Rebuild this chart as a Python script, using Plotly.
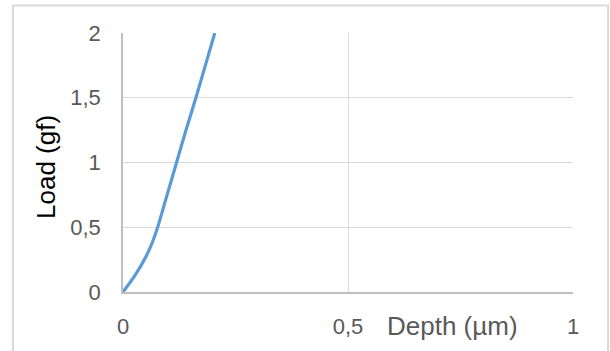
import plotly.graph_objects as go

depth_um = [0, 0.027, 0.052, 0.066, 0.077, 0.098, 0.119, 0.140, 0.162, 0.183, 0.204]
load_gf = [0, 0.13, 0.28, 0.39, 0.5, 0.75, 1.0, 1.25, 1.5, 1.75, 2.0]

x_ticks = [0, 0.5, 1]
x_labels = ["0", "0,5", "1"]
y_ticks = [0, 0.5, 1, 1.5, 2]
y_labels = ["0", "0,5", "1", "1,5", "2"]

fig = go.Figure()
fig.add_trace(go.Scatter(x=depth_um, y=load_gf, mode="lines",
                         line=dict(color="#5B9BD5", width=3.2, shape="spline", smoothing=0.9),
                         cliponaxis=True, showlegend=False))

font = "Liberation Sans, Arial, sans-serif"
fig.update_layout(
    width=610, height=351,
    margin=dict(l=123, r=37, t=33, b=53),
    paper_bgcolor="white", plot_bgcolor="white",
    font=dict(family=font, size=22, color="#595959"),
    xaxis=dict(range=[0, 1], tickvals=x_ticks, ticktext=x_labels,
               showgrid=True, gridcolor="#D9D9D9", gridwidth=1.3,
               showline=True, linecolor="#BFBFBF", linewidth=1.5, mirror=False,
               zeroline=False, ticks="outside", ticklen=14, tickcolor="rgba(0,0,0,0)",
               fixedrange=True),
    yaxis=dict(range=[0, 2], tickvals=y_ticks, ticktext=y_labels,
               showgrid=True, gridcolor="#D9D9D9", gridwidth=1.3,
               showline=True, linecolor="#BFBFBF", linewidth=1.5,
               zeroline=False, ticks="outside", ticklen=16, tickcolor="rgba(0,0,0,0)",
               fixedrange=True),
    annotations=[
        dict(text="Depth (µm)", xref="paper", yref="paper", x=0.733, y=-0.13,
             showarrow=False, font=dict(family=font, size=26, color="#595959"),
             xanchor="center", yanchor="middle"),
        dict(text="Load (gf)", xref="paper", yref="paper", x=-0.171, y=0.483,
             showarrow=False, textangle=-90, font=dict(family=font, size=26, color="#000000"),
             xanchor="center", yanchor="middle"),
    ],
    shapes=[
        dict(type="rect", xref="paper", yref="paper", x0=-0.2444, x1=1.078, y0=-0.3, y1=1.1057,
             line=dict(color="#D9D9D9", width=2), fillcolor="rgba(0,0,0,0)", layer="below"),
    ],
)
fig.write_html("out.html", config={"displayModeBar": False},
               post_script="document.body.style.margin='0';document.body.style.overflow='hidden';")
